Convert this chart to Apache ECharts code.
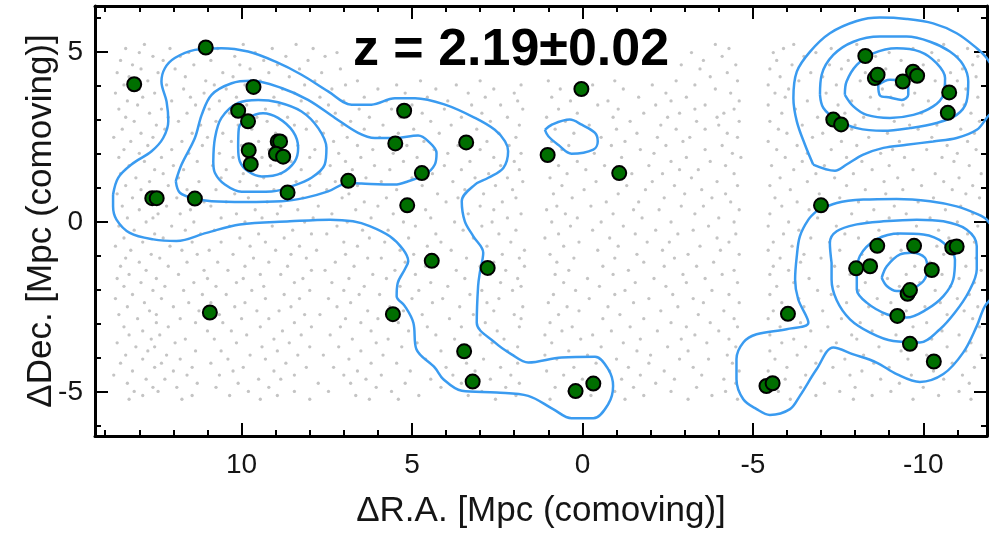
<!DOCTYPE html>
<html>
<head>
<meta charset="utf-8">
<script src="https://cdn.jsdelivr.net/npm/echarts@6/dist/echarts.min.js"></script>
<style>
  html, body { margin: 0; padding: 0; background: #fff; }
  #chart { width: 994px; height: 534px; }
</style>
</head>
<body>
<div id="chart"></div>
<script>
// ---- axis ranges and ticks (Mpc, comoving) ----
const X_MIN = -11.87, X_MAX = 14.30;
const Y_MIN = -6.29, Y_MAX = 6.35;
const xMajorTicks = [10, 5, 0, -5, -10];
const xMinorTicks = [14, 13, 12, 11, 10, 9, 8, 7, 6, 5, 4, 3, 2, 1, 0, -1, -2, -3, -4, -5, -6, -7, -8, -9, -10, -11];
const yMajorTicks = [5, 0, -5];
const yMinorTicks = [6, 5, 4, 3, 2, 1, 0, -1, -2, -3, -4, -5, -6];

// ---- emitters (green circles): offsets in R.A. and Dec. ----
const emitterRA = [
  11.05, 13.15, 9.65, 10.10, 9.81, 8.94, 8.87, 9.79, 8.99, 8.78, 9.73,
  12.62, 12.49, 11.37, 8.65, 5.23, 5.49, 3.41, 6.87, 4.71, 5.14,
  0.03, 1.02, -1.08,
  -8.30, -8.58, -8.66, -9.40, -9.70, -9.82, -10.76, -10.72, -7.36, -7.59, -7.00,
  4.42, 2.78, 10.93, 5.56, 3.47, 3.22, 0.20, -0.32,
  -5.40, -5.58, -6.03, -8.65, -9.73, -10.85, -10.98, -8.03, -8.44, -10.25,
  -9.54, -9.61, -9.24, -9.61, -10.31
];
const emitterDec = [
  5.13, 4.05, 3.97, 3.27, 2.96, 2.37, 2.37, 2.11, 2.01, 1.92, 1.70,
  0.70, 0.70, 0.69, 0.87, 3.27, 2.31, 2.34, 1.21, 1.44, 0.49,
  3.91, 1.97, 1.44,
  4.88, 4.23, 4.33, 4.13, 4.42, 4.30, 3.81, 3.21, 3.01, 2.87, 0.49,
  -1.14, -1.35, -2.66, -2.71, -3.80, -4.69, -4.97, -4.75,
  -4.82, -4.74, -2.70, -0.70, -0.70, -0.75, -0.72, -1.36, -1.30, -1.41,
  -2.11, -2.00, -2.76, -3.58, -4.10
];

// ---- background field sources (gray): each row is [Dec., [R.A. values]] ----
const fieldRows = [
  [5.22, [12.85, 11.2, 9.95, 8.4, 6.75, 4.6, 2.9, 0.75, -1.35, -3.9, -6.2, -8.05, -10.6]],
  [5.10, [13.4, 12.1, 10.7, 9.1, 7.9, 5.55, 3.4, 2.1, 0.2, -2.6, -4.3, -5.9, -7.3, -9.7, -11.3]],
  [4.98, [13.0, 11.55, 9.6, 7.2, 6.05, 4.15, 2.55, 0.95, -0.8, -3.2, -5.6, -6.85, -9.0, -10.25]],
  [4.87, [12.6, 11.8, 10.2, 8.7, 7.55, 5.8, 3.65, 1.95, -0.35, -1.9, -4.1, -6.5, -8.6, -11.0, -11.6]],
  [4.75, [13.55, 12.3, 10.9, 9.35, 8.05, 6.5, 4.85, 2.3, 0.45, -2.35, -3.55, -5.7, -7.8, -9.35, -10.45]],
  [4.62, [13.2, 11.4, 10.05, 8.95, 6.85, 5.3, 3.2, 0.05, -1.15, -2.9, -4.5, -6.15, -7.25, -10.0, -11.45]],
  [4.50, [12.95, 11.95, 9.75, 8.3, 7.1, 4.4, 2.75, 0.85, -1.7, -3.45, -5.5, -7.6, -8.9, -11.15]],
  [4.39, [13.65, 12.45, 10.55, 9.2, 7.65, 6.2, 5.05, 3.5, 1.85, -0.6, -2.2, -4.25, -6.7, -8.3, -9.9, -10.8]],
  [4.27, [13.3, 11.65, 10.25, 8.6, 5.65, 4.1, 2.25, 0.3, -1.5, -3.75, -5.8, -7.05, -9.55, -11.55]],
  [4.15, [12.75, 11.05, 9.45, 7.85, 6.6, 4.75, 3.0, 1.0, -0.95, -2.75, -4.55, -6.35, -8.15, -10.35, -11.0]],
  [4.03, [13.45, 12.2, 10.8, 9.9, 8.15, 6.95, 5.45, 3.7, 1.8, -0.3, -2.05, -3.3, -5.45, -7.45, -9.2, -10.65]],
  [3.91, [13.0, 11.7, 10.45, 8.8, 7.35, 6.0, 4.3, 2.6, 0.65, -1.2, -3.9, -6.05, -8.8, -11.25]],
  [3.79, [13.7, 12.55, 11.1, 9.6, 8.45, 5.2, 3.35, 2.0, -0.1, -2.45, -4.35, -5.65, -7.15, -9.75, -10.95]],
  [3.67, [12.9, 11.5, 10.15, 9.05, 7.7, 6.4, 4.55, 2.85, 0.9, -1.65, -3.05, -5.95, -8.45, -9.05, -11.6]],
  [3.56, [13.35, 12.05, 10.65, 8.25, 7.0, 5.75, 3.95, 1.9, 0.35, -0.75, -2.6, -4.6, -6.6, -7.9, -10.15]],
  [3.44, [13.05, 11.35, 9.85, 8.9, 7.45, 5.0, 3.25, 2.4, -0.45, -2.15, -3.6, -5.45, -7.5, -9.4, -11.2]],
  [3.32, [13.6, 12.35, 10.95, 9.3, 6.55, 5.6, 4.05, 1.75, 0.7, -1.05, -3.3, -4.45, -6.25, -8.7, -10.55]],
  [3.20, [12.7, 11.6, 10.35, 8.05, 7.25, 4.7, 2.95, 0.15, -1.8, -2.85, -4.15, -5.85, -7.7, -9.95, -11.4]],
  [3.08, [13.4, 12.15, 9.55, 8.65, 6.25, 5.35, 3.55, 2.2, 1.05, -0.9, -2.5, -3.95, -6.9, -8.25, -10.8]],
  [2.96, [13.15, 11.85, 10.75, 9.25, 7.8, 6.8, 4.45, 2.7, 0.5, -1.4, -3.35, -4.6, -5.5, -7.35, -9.15, -11.65]],
  [2.85, [12.5, 11.2, 10.1, 8.45, 7.05, 5.85, 3.85, 1.85, -0.2, -2.3, -4.0, -6.45, -8.0, -9.6, -10.4]],
  [2.73, [13.5, 12.25, 9.7, 8.1, 6.4, 4.95, 3.1, 0.8, -1.0, -2.75, -3.6, -5.75, -7.9, -9.85, -11.1]],
  [2.61, [12.95, 11.45, 10.55, 9.0, 7.6, 5.4, 4.2, 2.45, 0.25, -1.6, -4.25, -6.0, -7.05, -8.95, -11.5]],
  [2.49, [13.75, 12.6, 11.0, 8.7, 6.9, 5.95, 3.4, 1.95, -0.55, -2.2, -3.15, -4.55, -6.75, -8.4, -10.25]],
  [2.37, [13.25, 11.75, 10.3, 9.5, 7.3, 4.65, 2.8, 0.9, -1.25, -2.95, -5.45, -7.6, -9.3, -11.3]],
  [2.25, [12.75, 11.15, 10.0, 8.35, 6.6, 5.15, 3.65, 2.15, 0.4, -0.85, -2.45, -4.1, -6.3, -8.05, -10.7]],
  [2.13, [13.45, 12.05, 9.2, 7.85, 6.15, 4.35, 3.0, 0.6, -1.7, -3.6, -5.7, -7.3, -9.1, -10.1, -11.55]],
  [2.02, [13.0, 11.55, 10.65, 8.75, 7.15, 5.55, 3.95, 1.8, -0.35, -2.1, -4.4, -6.6, -8.75, -11.0]],
  [1.90, [13.6, 12.35, 10.25, 9.4, 8.0, 6.5, 4.85, 2.6, 1.0, -1.15, -3.05, -4.65, -5.95, -7.75, -9.45, -10.55]],
  [1.78, [12.85, 11.3, 9.75, 8.55, 6.95, 5.25, 3.3, 2.0, 0.15, -2.6, -3.75, -6.45, -8.2, -10.9]],
  [1.66, [13.3, 12.0, 10.85, 9.15, 7.4, 6.1, 4.05, 2.4, 0.7, -0.65, -1.95, -4.2, -5.55, -7.1, -9.0, -11.35]],
  [1.54, [12.55, 11.7, 10.45, 8.25, 6.75, 5.65, 3.55, 1.85, -0.1, -2.85, -3.4, -6.2, -8.5, -9.7]],
  [1.42, [13.55, 12.3, 9.95, 8.85, 7.7, 4.4, 2.75, 0.45, -1.45, -2.35, -4.45, -6.85, -7.95, -10.35, -11.7]],
  [1.30, [13.1, 11.85, 10.6, 9.35, 6.35, 5.0, 3.15, 2.2, 0.95, -0.95, -3.2, -5.8, -7.4, -9.25, -11.05]],
  [1.19, [12.7, 11.25, 10.05, 8.4, 7.25, 5.9, 3.8, 1.75, -0.4, -2.05, -3.95, -6.6, -8.85, -10.6]],
  [1.07, [13.4, 12.15, 9.55, 8.0, 6.6, 4.7, 2.55, 0.6, -1.3, -2.7, -4.55, -5.5, -7.75, -9.95, -11.45]],
  [0.95, [12.95, 11.6, 10.75, 9.05, 7.5, 5.45, 3.45, 2.05, -0.05, -1.85, -3.5, -6.1, -8.3, -9.4, -10.85]],
  [0.83, [13.65, 12.5, 10.2, 8.6, 6.85, 4.25, 2.9, 0.85, -1.05, -3.0, -4.2, -6.95, -8.9, -11.25]],
  [0.71, [13.2, 11.9, 9.8, 8.2, 7.05, 5.75, 3.65, 1.95, 0.3, -2.4, -3.8, -5.65, -7.55, -10.3, -11.65]],
  [0.59, [12.6, 11.1, 10.45, 9.25, 6.4, 5.2, 4.0, 2.35, -0.7, -1.65, -4.35, -6.3, -8.1, -9.85]],
  [0.47, [13.5, 12.2, 10.9, 8.85, 7.75, 6.0, 3.0, 0.75, -0.25, -2.9, -3.55, -5.85, -7.2, -9.15, -11.1]],
  [0.36, [13.0, 11.5, 9.6, 8.35, 6.65, 4.6, 2.6, 1.05, -1.5, -2.25, -4.6, -6.65, -8.55, -10.65]],
  [0.24, [12.45, 11.8, 10.15, 8.95, 7.35, 5.55, 3.35, 1.8, 0.5, -0.9, -3.3, -5.5, -7.9, -9.5, -11.45]],
  [0.12, [13.35, 12.6, 10.6, 9.4, 7.9, 6.2, 4.45, 2.2, 0.15, -1.75, -4.0, -6.9, -9.0, -10.2]],
  [0.00, [12.8, 11.4, 9.9, 8.15, 6.9, 5.25, 3.75, 2.65, 0.9, -0.55, -2.6, -4.45, -6.05, -8.35, -11.0]],
  [-0.12, [13.6, 12.05, 10.35, 9.1, 7.2, 4.9, 2.95, 0.35, -1.2, -3.7, -5.45, -7.45, -9.8, -11.6]],
  [-0.24, [13.15, 11.65, 10.8, 8.5, 6.45, 5.7, 3.5, 1.95, -0.3, -2.15, -3.25, -6.35, -8.7, -10.45]],
  [-0.35, [12.55, 11.2, 9.5, 7.95, 7.5, 4.3, 2.45, 0.7, -1.55, -2.8, -4.5, -5.9, -7.7, -9.25, -11.3]],
  [-0.47, [13.45, 12.3, 10.05, 8.75, 6.25, 5.1, 3.2, 1.1, -0.8, -3.95, -6.7, -8.1, -10.75]],
  [-0.59, [12.9, 11.45, 10.6, 9.3, 7.0, 5.8, 4.15, 2.1, 0.1, -1.9, -2.55, -4.3, -5.6, -7.25, -9.6, -11.5]],
  [-0.71, [13.7, 12.1, 9.75, 8.3, 6.6, 4.55, 2.8, 0.55, -1.05, -3.45, -6.15, -8.8, -10.4]],
  [-0.83, [13.25, 11.75, 10.95, 9.0, 7.8, 5.35, 3.85, 1.7, -0.45, -2.35, -4.05, -5.45, -7.55, -9.35, -11.15]],
  [-0.95, [12.65, 11.3, 10.25, 8.55, 6.95, 4.95, 2.35, 0.95, -1.6, -3.1, -4.6, -6.5, -8.2, -10.6]],
  [-1.06, [13.4, 12.4, 9.65, 8.1, 6.3, 5.9, 3.4, 1.85, 0.25, -0.95, -2.7, -5.8, -7.0, -9.05, -11.55]],
  [-1.18, [13.0, 11.6, 10.7, 9.2, 7.25, 5.2, 4.25, 2.6, 0.75, -1.8, -3.85, -6.4, -8.6, -10.2]],
  [-1.30, [13.55, 12.15, 9.9, 8.65, 6.7, 4.6, 3.0, 1.7, -0.6, -2.4, -3.35, -5.6, -7.4, -9.75, -11.25]],
  [-1.42, [12.8, 11.1, 10.4, 7.95, 7.55, 5.5, 3.7, 2.25, 0.4, -1.35, -4.45, -6.05, -8.45, -11.7]],
  [-1.54, [13.3, 11.85, 9.45, 8.85, 6.15, 4.9, 2.7, 0.8, -0.9, -2.95, -4.1, -5.5, -7.85, -9.5, -10.55]],
  [-1.66, [13.65, 12.5, 11.0, 9.95, 8.2, 6.85, 5.75, 3.45, 1.9, -0.15, -2.1, -3.6, -6.65, -8.95, -11.05]],
  [-1.78, [12.95, 11.4, 10.15, 8.45, 7.35, 4.45, 2.4, 0.55, -1.55, -3.05, -4.55, -6.2, -8.3, -9.9, -11.5]],
  [-1.89, [13.45, 12.25, 10.75, 9.35, 6.4, 5.35, 3.95, 1.8, -0.5, -2.45, -5.7, -7.5, -9.3, -10.8]],
  [-2.01, [12.6, 11.7, 9.7, 8.0, 7.0, 4.8, 2.95, 2.05, 0.2, -1.25, -3.8, -6.9, -8.1, -10.35]],
  [-2.13, [13.2, 11.15, 10.45, 8.75, 6.55, 5.95, 3.3, 0.85, -0.95, -2.65, -4.3, -5.5, -7.3, -9.65, -11.35]],
  [-2.25, [13.7, 12.35, 9.3, 8.3, 7.45, 5.0, 4.1, 2.45, -0.2, -1.95, -3.25, -6.35, -8.65, -11.0]],
  [-2.37, [12.85, 11.55, 10.9, 9.9, 6.8, 4.4, 2.8, 1.0, -1.5, -3.55, -4.6, -5.85, -7.75, -9.05, -10.5]],
  [-2.49, [13.35, 12.0, 10.2, 8.55, 7.2, 5.65, 3.6, 1.75, 0.45, -0.75, -2.8, -6.5, -8.4, -10.05, -11.6]],
  [-2.61, [12.7, 11.25, 9.55, 8.9, 6.3, 5.25, 2.6, 0.1, -2.3, -4.15, -5.6, -7.05, -9.5, -11.2]],
  [-2.72, [13.6, 12.5, 10.65, 8.15, 7.7, 4.7, 3.2, 2.0, 0.7, -1.1, -3.4, -6.0, -8.8, -10.7]],
  [-2.84, [13.05, 11.8, 10.0, 9.2, 6.95, 6.0, 3.9, 1.8, -0.6, -1.8, -4.45, -5.45, -7.6, -9.25, -11.45]],
  [-2.96, [12.5, 11.35, 10.55, 8.45, 6.5, 5.4, 2.85, 0.95, -2.6, -3.75, -6.4, -8.15, -10.1]],
  [-3.08, [13.45, 12.15, 9.45, 7.95, 7.1, 4.55, 3.55, 1.85, 0.3, -1.4, -3.05, -4.55, -5.8, -7.2, -9.7, -11.65]],
  [-3.20, [12.9, 11.0, 10.3, 8.8, 6.2, 5.1, 2.5, 0.6, -0.85, -2.2, -4.0, -6.7, -8.5, -10.55]],
  [-3.32, [13.3, 12.4, 9.85, 8.25, 7.4, 4.3, 3.0, 1.1, -0.3, -3.3, -5.5, -7.9, -9.2, -11.05]],
  [-3.44, [12.65, 11.65, 10.8, 9.05, 6.75, 5.7, 3.75, 2.3, 0.05, -1.7, -2.9, -4.3, -6.2, -8.05, -10.25]],
  [-3.55, [13.65, 11.95, 10.15, 8.6, 6.05, 4.85, 2.65, 0.9, -1.2, -3.65, -5.85, -7.45, -9.8, -11.4]],
  [-3.67, [13.1, 12.55, 9.4, 8.0, 7.15, 5.3, 3.3, 1.9, -0.55, -2.5, -4.5, -6.55, -8.7, -10.7]],
  [-3.79, [12.75, 11.35, 10.6, 8.95, 6.5, 4.15, 2.2, 0.4, -1.6, -3.1, -5.5, -7.0, -9.35, -11.25]],
  [-3.91, [13.4, 12.2, 9.75, 8.35, 7.6, 5.85, 3.65, 1.1, -0.15, -2.0, -4.25, -6.3, -8.25, -10.1, -11.7]],
  [-4.03, [12.9, 11.8, 10.4, 9.3, 6.85, 4.6, 2.9, 0.75, -1.0, -2.85, -3.7, -5.65, -7.7, -9.55]],
  [-4.15, [13.55, 12.35, 10.9, 8.7, 6.2, 5.45, 3.4, 1.9, -0.4, -1.95, -4.4, -6.85, -8.55, -10.85]],
  [-4.27, [12.55, 11.45, 9.95, 8.1, 7.3, 4.0, 2.4, 0.25, -1.35, -3.25, -6.0, -7.35, -9.0, -11.5]],
  [-4.38, [13.2, 12.0, 10.25, 9.05, 6.6, 5.05, 3.15, 1.05, -0.8, -2.4, -4.6, -5.45, -8.2, -10.3]],
  [-4.50, [13.75, 11.6, 10.65, 8.45, 7.0, 5.9, 3.8, 2.1, 0.55, -1.7, -3.5, -6.55, -7.85, -9.65, -11.15]],
  [-4.62, [12.8, 12.25, 9.5, 8.85, 6.35, 4.45, 2.7, 0.0, -1.15, -2.7, -4.15, -5.95, -8.75, -10.6]],
  [-4.74, [13.35, 11.3, 10.1, 7.75, 6.8, 5.2, 3.55, 1.85, -0.5, -2.15, -4.5, -7.1, -9.3, -11.35]],
  [-4.86, [12.6, 11.9, 10.75, 9.2, 6.05, 4.15, 2.25, 0.8, -1.5, -3.35, -6.4, -8.0, -10.0]],
  [-4.98, [13.15, 12.45, 9.8, 8.45, 7.45, 5.6, 2.95, 0.4, -0.95, -2.6, -4.2, -5.75, -7.55, -9.05, -11.05]],
  [-5.10, [12.9, 11.45, 10.35, 8.95, 6.65, 4.8, 3.35, 1.95, -0.25, -1.8, -3.8, -6.85, -8.5, -10.45]],
  [-5.21, [13.3, 11.75, 9.45, 8.0, 6.25, 5.4, 2.55, 0.95, -1.25, -3.1, -4.55, -6.1, -7.95, -9.7, -11.4]]
];

// ---- density contours, as closed [R.A., Dec.] paths ----
// west structure: outer level and three nested levels
const contourWest1 = [
  [13.77,0.81],[13.62,1.30],[13.23,1.69],[12.64,2.08],[12.30,2.47],[12.15,2.96],[12.20,3.54],[12.35,4.13],
  [12.25,4.52],[11.96,4.82],[11.37,5.06],[10.59,5.11],[9.81,5.01],[9.02,4.72],[8.24,4.33],[7.46,3.84],
  [6.77,3.45],[6.19,3.45],[5.50,3.64],[4.91,3.64],[4.03,3.45],[3.15,3.06],[2.57,2.71],[2.27,2.37],
  [2.18,2.08],[2.32,1.59],[2.76,1.30],[3.15,1.10],[3.54,0.61],[3.45,0.02],[3.20,-0.42],[2.91,-0.90],
  [3.01,-1.49],[3.06,-1.88],[3.10,-2.96],[2.57,-3.54],[2.08,-3.89],[1.59,-4.13],[0.61,-3.98],[-0.37,-3.96],
  [-0.76,-4.33],[-0.90,-4.82],[-0.76,-5.35],[-0.32,-5.77],[0.32,-5.77],[0.86,-5.50],[1.59,-5.11],[2.52,-5.01],
  [3.54,-4.96],[4.08,-4.62],[4.33,-4.28],[4.87,-3.74],[4.96,-2.96],[5.21,-2.47],[5.45,-2.18],[5.42,-1.80],
  [5.21,-1.39],[5.11,-1.15],[5.26,-0.81],[5.65,-0.42],[6.24,-0.12],[6.73,0.02],[7.41,0.07],[8.58,0.02],
  [10.05,-0.07],[11.03,-0.32],[11.91,-0.56],[12.59,-0.51],[13.28,-0.32],[13.67,0.07],[13.77,0.46],[13.77,0.81]
];
const contourWest2 = [
  [11.93,1.20],[11.76,1.69],[11.37,2.47],[11.17,3.15],[10.88,3.74],[10.29,4.08],[9.71,4.15],[8.83,3.94],
  [8.05,3.59],[7.26,3.06],[6.58,2.62],[6.09,2.47],[5.50,2.47],[4.82,2.54],[4.52,2.37],[4.28,2.03],
  [4.33,1.69],[4.62,1.39],[5.11,1.20],[5.50,1.10],[6.48,1.13],[6.87,1.15],[7.46,0.90],[8.14,0.71],
  [8.83,0.61],[9.90,0.59],[10.88,0.61],[11.37,0.69],[11.81,0.86],[11.93,1.20]
];
const contourWest3 = [
  [10.83,1.78],[10.78,2.47],[10.59,3.06],[10.10,3.50],[9.51,3.59],[8.93,3.52],[8.24,3.25],[7.75,2.76],
  [7.51,2.18],[7.56,1.69],[7.95,1.30],[8.53,1.05],[9.12,0.90],[10.00,0.89],[10.49,1.10],[10.78,1.44],[10.83,1.78]
];
const contourWest4 = [
  [10.10,2.18],[10.08,2.76],[9.81,3.06],[9.37,3.20],[8.93,3.06],[8.49,2.66],[8.34,2.18],[8.44,1.78],
  [8.83,1.44],[9.41,1.34],[9.81,1.49],[10.05,1.78],[10.10,2.18]
];
// small isolated loop near the field centre
const contourCentre = [
  [1.10,2.71],[0.90,2.86],[0.37,3.01],[0.02,2.86],[-0.37,2.62],[-0.45,2.37],[-0.32,2.13],[0.32,2.01],
  [0.71,2.27],[1.00,2.52],[1.10,2.71]
];
// north-east clump
const contourNE1 = [
  [-6.77,1.69],[-6.53,2.27],[-6.29,2.96],[-6.19,3.64],[-6.29,4.42],[-6.68,5.01],[-7.26,5.55],[-8.05,5.91],
  [-8.73,6.01],[-9.51,5.97],[-10.29,5.84],[-10.98,5.55],[-11.57,5.11],[-11.86,4.82],[-12.15,4.30],[-12.25,3.60],
  [-11.86,3.06],[-11.57,2.71],[-10.98,2.47],[-10.29,2.37],[-9.51,2.27],[-8.83,2.18],[-8.24,1.98],[-7.75,1.69],
  [-7.41,1.51],[-6.77,1.69]
];
const contourNE2 = [
  [-6.97,3.74],[-7.02,4.33],[-7.36,4.91],[-7.95,5.30],[-8.73,5.45],[-9.51,5.45],[-10.20,5.30],[-10.78,5.01],
  [-11.17,4.62],[-11.32,4.13],[-11.27,3.54],[-10.98,3.15],[-10.39,2.91],[-9.61,2.76],[-8.83,2.68],[-8.05,2.76],
  [-7.46,3.01],[-7.07,3.35],[-6.97,3.74]
];
const contourNE3 = [
  [-7.70,3.74],[-7.75,4.13],[-8.05,4.62],[-8.53,4.96],[-9.22,5.11],[-9.90,5.01],[-10.39,4.67],[-10.64,4.23],
  [-10.59,3.74],[-10.29,3.40],[-9.71,3.15],[-9.02,3.06],[-8.34,3.15],[-7.95,3.40],[-7.70,3.74]
];
const contourNE4 = [
  [-8.68,4.03],[-9.02,4.18],[-9.37,4.15],[-9.56,3.98],[-9.56,3.74],[-9.37,3.59],[-9.02,3.66],[-8.73,3.72],[-8.68,4.03]
];
// south-east clump with its south-western lobe
const contourSE1 = [
  [-6.87,0.32],[-7.46,0.56],[-8.24,0.66],[-9.22,0.68],[-10.20,0.61],[-10.98,0.46],[-11.57,0.24],[-11.86,0.07],
  [-12.20,-0.50],[-12.30,-1.30],[-12.20,-2.00],[-11.81,-2.47],[-11.57,-3.06],[-11.17,-3.84],[-10.59,-4.47],
  [-9.90,-4.70],[-9.22,-4.47],[-8.63,-4.13],[-7.95,-3.89],[-7.36,-3.69],[-6.87,-4.33],[-6.38,-5.11],[-6.09,-5.50],
  [-5.50,-5.67],[-5.11,-5.50],[-4.72,-5.21],[-4.52,-4.62],[-4.52,-4.03],[-4.72,-3.54],[-5.11,-3.30],[-5.99,-3.15],
  [-6.63,-2.96],[-6.33,-2.27],[-6.24,-1.69],[-6.29,-1.00],[-6.38,-0.42],[-6.63,0.07],[-6.87,0.32]
];
const contourSE2 = [
  [-7.31,-1.20],[-7.26,-0.61],[-7.46,-0.27],[-8.05,-0.07],[-8.83,0.02],[-9.81,0.07],[-10.59,0.02],[-11.27,-0.22],
  [-11.57,-0.71],[-11.57,-1.39],[-11.32,-2.08],[-10.93,-2.66],[-10.49,-3.15],[-9.90,-3.54],[-9.12,-3.50],
  [-8.44,-3.25],[-7.85,-2.86],[-7.46,-2.30],[-7.31,-1.69],[-7.31,-1.20]
];
const contourSE3 = [
  [-8.05,-1.59],[-8.14,-1.00],[-8.63,-0.51],[-9.32,-0.34],[-10.00,-0.37],[-10.59,-0.61],[-10.93,-1.10],
  [-10.88,-1.69],[-10.59,-2.18],[-10.10,-2.57],[-9.51,-2.81],[-8.93,-2.71],[-8.34,-2.37],[-8.05,-1.98],[-8.05,-1.59]
];
const contourSE4 = [
  [-8.78,-1.64],[-8.93,-1.30],[-9.32,-0.95],[-9.66,-0.90],[-10.05,-1.05],[-10.12,-1.39],[-10.00,-1.74],
  [-9.61,-1.98],[-9.22,-2.03],[-8.93,-1.88],[-8.78,-1.64]
];
const contours = [
  contourWest1, contourWest2, contourWest3, contourWest4, contourCentre,
  contourNE1, contourNE2, contourNE3, contourNE4,
  contourSE1, contourSE2, contourSE3, contourSE4
];

const titleText = 'z = 2.19±0.02';
const xTitle = 'ΔR.A. [Mpc (comoving)]';
const yTitle = 'ΔDec. [Mpc (comoving)]';

// ---- build series data ----
const fieldData = [];
fieldRows.forEach(([dec, ras]) => ras.forEach(ra => fieldData.push([ra, dec])));
const emitterData = emitterRA.map((ra, i) => [ra, emitterDec[i]]);

const FONT = '"Liberation Sans", Arial, Helvetica, sans-serif';
const INK = '#151515';

function xAxisDef(position, ticks, tickLen, withLabels, withLine, extra) {
  return Object.assign({
    type: 'value', position: position, min: X_MIN, max: X_MAX, inverse: true,
    axisLine: { show: withLine, onZero: false, lineStyle: { color: '#000', width: 3 } },
    axisTick: { show: true, inside: true, length: tickLen, customValues: ticks,
                lineStyle: { color: '#000', width: 2 } },
    axisLabel: withLabels
      ? { show: true, customValues: ticks, margin: 15, fontSize: 28, fontFamily: FONT, color: INK }
      : { show: false },
    splitLine: { show: false }
  }, extra || {});
}
function yAxisDef(position, ticks, tickLen, withLabels, withLine, extra) {
  return Object.assign({
    type: 'value', position: position, min: Y_MIN, max: Y_MAX,
    axisLine: { show: withLine, onZero: false, lineStyle: { color: '#000', width: 3 } },
    axisTick: { show: true, inside: true, length: tickLen, customValues: ticks,
                lineStyle: { color: '#000', width: 2 } },
    axisLabel: withLabels
      ? { show: true, customValues: ticks, margin: 12, fontSize: 28, fontFamily: FONT, color: INK }
      : { show: false },
    splitLine: { show: false }
  }, extra || {});
}

const chart = echarts.init(document.getElementById('chart'), null, { renderer: 'canvas' });

const contourSeries = contours.map(path => ({
  type: 'line', data: path, xAxisIndex: 0, yAxisIndex: 0,
  symbol: 'none', smooth: 0.35, clip: true, silent: true, z: 3,
  lineStyle: { color: '#3a9bf0', width: 2.5 }
}));

chart.setOption({
  animation: false,
  backgroundColor: '#fff',
  grid: { left: 95, right: 7, top: 6, bottom: 97, containLabel: false },
  xAxis: [
    xAxisDef('bottom', xMajorTicks, 13, true, true, {
      name: xTitle, nameLocation: 'middle', nameGap: 58, nameMoveOverlap: false,
      nameTextStyle: { fontSize: 35, fontFamily: FONT, color: INK }
    }),
    xAxisDef('bottom', xMinorTicks, 6, false, false),
    xAxisDef('top', xMajorTicks, 13, false, true),
    xAxisDef('top', xMinorTicks, 6, false, false)
  ],
  yAxis: [
    yAxisDef('left', yMajorTicks, 13, true, true, {
      name: yTitle, nameLocation: 'middle', nameGap: 36, nameMoveOverlap: false,
      nameTextStyle: { fontSize: 35, fontFamily: FONT, color: INK }
    }),
    yAxisDef('left', yMinorTicks, 6, false, false),
    yAxisDef('right', yMajorTicks, 13, false, true),
    yAxisDef('right', yMinorTicks, 6, false, false)
  ],
  graphic: [
    {
      type: 'text', z: 100, x: 511, y: 51,
      style: {
        text: titleText, font: 'bold 52px ' + FONT, fill: '#000',
        textAlign: 'center', textVerticalAlign: 'middle',
        backgroundColor: '#fff', padding: [2, 8]
      }
    }
  ],
  series: [
    {
      type: 'scatter', data: fieldData, xAxisIndex: 0, yAxisIndex: 0,
      symbol: 'circle', symbolSize: 3.3, silent: true, z: 1,
      itemStyle: { color: '#c4c4c4', opacity: 1 }
    },
    ...contourSeries,
    {
      type: 'scatter', data: emitterData, xAxisIndex: 0, yAxisIndex: 0,
      symbol: 'circle', symbolSize: 14, z: 5,
      itemStyle: { color: '#006f00', borderColor: '#000', borderWidth: 2, opacity: 1 }
    }
  ]
});
</script>
</body>
</html>
